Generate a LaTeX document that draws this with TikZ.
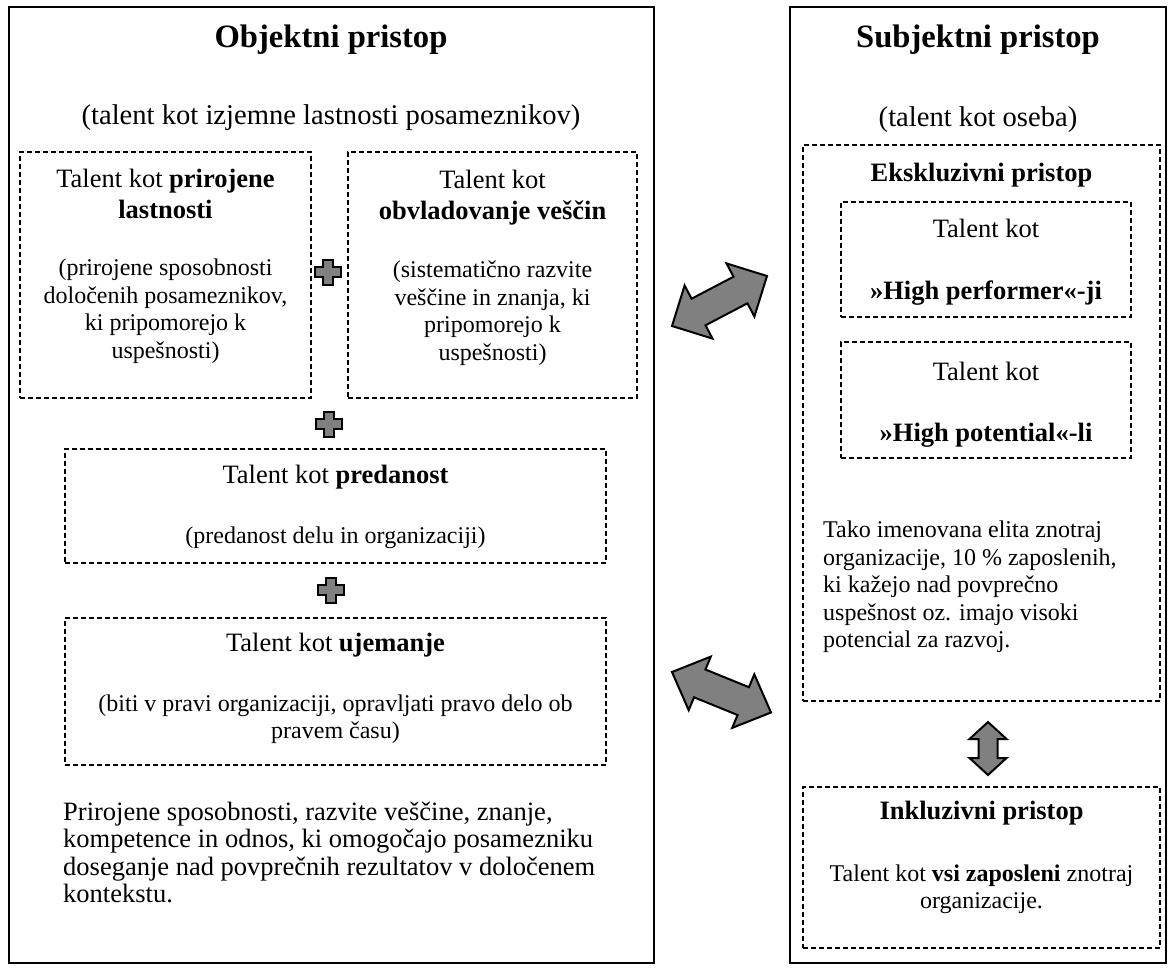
\documentclass[tikz,border=0pt]{standalone}
\usepackage{fontspec}
\setmainfont{Liberation Serif}
\begin{document}
\begin{tikzpicture}[x=1pt,y=-1pt,
  outerbox/.style={draw, line width=2.4pt, inner sep=0pt},
  dbox/.style={draw, line width=1.2pt, dash pattern=on 5pt off 3pt, inner sep=0pt},
  ttl/.style={inner sep=0pt, font=\fontsize{32.6}{36}\selectfont\bfseries},
  sub/.style={inner sep=0pt, font=\fontsize{28.6}{32}\selectfont},
  head/.style={inner sep=0pt, align=center, font=\fontsize{26.5}{31}\selectfont},
  txt/.style={inner sep=0pt, align=center, font=\fontsize{24}{27.5}\selectfont},
  blockarrow/.style={draw, line width=2pt, fill=gray, line join=miter},
  plussign/.pic={\draw[line width=2pt, fill=gray] (-5,-12.5) -- (5,-12.5) -- (5,-5) -- (13,-5) -- (13,5) -- (5,5) -- (5,12.5) -- (-5,12.5) -- (-5,5) -- (-13,5) -- (-13,-5) -- (-5,-5) -- cycle;}
]
\useasboundingbox (0,0) rectangle (1170,967);
\fill[white] (0,0) rectangle (1170,967);

% outer boxes
\node[outerbox, minimum width=645pt, minimum height=956pt] (left) at (331.5,485) {};
\node[outerbox, minimum width=376pt, minimum height=956pt] (right) at (978,485) {};

% left column
\node[ttl] (t1) at (331,40) {Objektni pristop};
\node[sub] (s1) at (331,118) {(talent kot izjemne lastnosti posameznikov)};

\node[dbox, minimum width=291pt, minimum height=246pt] (b1) at (165.5,275) {};
\node[dbox, minimum width=289pt, minimum height=246pt] (b2) at (492.5,275) {};
\node[dbox, minimum width=541pt, minimum height=114pt] (b3) at (335.5,506) {};
\node[dbox, minimum width=541pt, minimum height=147pt] (b4) at (335.5,691.5) {};

\node[head] (b1a) at (165.5,194) {Talent kot \textbf{prirojene}\\\textbf{lastnosti}};
\node[txt] (b1b) at (165.5,311) {(prirojene sposobnosti\\določenih posameznikov,\\ki pripomorejo k\\uspešnosti)};
\node[head] (b2a) at (492.5,197.5) {Talent kot\\\textbf{obvladovanje veščin}};
\node[txt] (b2b) at (492.5,313) {(sistematično razvite\\veščine in znanja, ki\\pripomorejo k\\uspešnosti)};
\node[head] (b3a) at (335.5,477) {Talent kot \textbf{predanost}};
\node[txt] (b3b) at (335.5,538) {(predanost delu in organizaciji)};
\node[head] (b4a) at (335.5,645) {Talent kot \textbf{ujemanje}};
\node[txt] (b4b) at (335.5,719) {(biti v pravi organizaciji, opravljati pravo delo ob\\pravem času)};
\node[inner sep=0pt, align=left, anchor=west, font=\fontsize{26.5}{27.5}\selectfont] (def) at (63,852.5) {Prirojene sposobnosti, razvite veščine, znanje,\\kompetence in odnos, ki omogočajo posamezniku\\doseganje nad povprečnih rezultatov v določenem\\kontekstu.};

\pic at (328,272) {plussign};
\pic at (329,424) {plussign};
\pic at (331,590) {plussign};

% right column
\node[ttl] (t2) at (978,40) {Subjektni pristop};
\node[sub] (s2) at (978,120) {(talent kot oseba)};

\node[dbox, minimum width=357pt, minimum height=556pt] (eks) at (981.5,423) {};
\node[dbox, minimum width=290pt, minimum height=115pt] (ia) at (986,259.5) {};
\node[dbox, minimum width=290pt, minimum height=116pt] (ib) at (986,400) {};
\node[dbox, minimum width=357pt, minimum height=161pt] (ink) at (981.5,867.5) {};

\node[head, font=\fontsize{26.5}{31}\selectfont\bfseries] (eksT) at (981.5,175) {Ekskluzivni pristop};
\node[head] (iaT) at (986,228) {Talent kot};
\node[head, font=\fontsize{26.5}{31}\selectfont\bfseries] (iaB) at (986,293) {»High performer«-ji};
\node[head] (ibT) at (986,371) {Talent kot};
\node[head, font=\fontsize{26.5}{31}\selectfont\bfseries] (ibB) at (986,435) {»High potential«-li};
\node[txt, align=left, anchor=west] (elite) at (823,587) {Tako imenovana elita znotraj\\organizacije, 10 \% zaposlenih,\\ki kažejo nad povprečno\\uspešnost oz. imajo visoki\\potencial za razvoj.};
\node[head, font=\fontsize{26.5}{31}\selectfont\bfseries] (inkT) at (981.5,813) {Inkluzivni pristop};
\node[txt] (inkB) at (981.5,889) {Talent kot \textbf{vsi zaposleni} znotraj\\organizacije.};

% block arrows
\draw[blockarrow] (672,326) -- (712.5,338.6) -- (705.5,325.3) -- (747.4,303.3) -- (754.4,316.5) -- (767,276) -- (726.5,263.4) -- (733.5,276.7) -- (691.6,298.7) -- (684.6,285.5) -- cycle;
\draw[blockarrow] (672,672) -- (710.8,656.6) -- (705.45,669.5) -- (748.95,687.2) -- (754.3,674.3) -- (771,712.5) -- (732.2,727.9) -- (737.55,715.0) -- (694.05,697.3) -- (688.7,710.2) -- cycle;
\draw[blockarrow] (988,722) -- (1006.5,739) -- (997.5,739) -- (997.5,758) -- (1006.5,758) -- (988,775) -- (969.5,758) -- (978.5,758) -- (978.5,739) -- (969.5,739) -- cycle;
\end{tikzpicture}
\end{document}
